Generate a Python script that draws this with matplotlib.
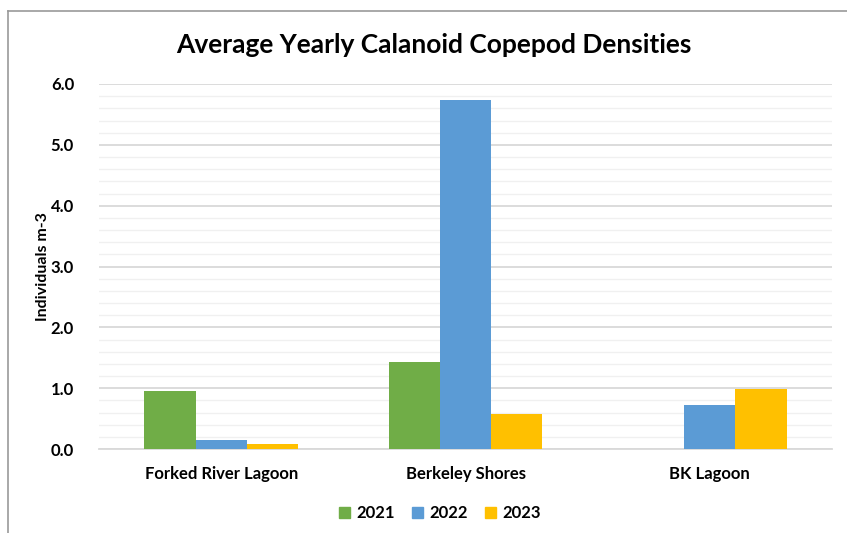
import numpy as np
import matplotlib.pyplot as plt
from matplotlib.lines import Line2D

sites = ["Forked River Lagoon", "Berkeley Shores", "BK Lagoon"]
years = ["2021", "2022", "2023"]
dens_2021 = [0.95, 1.43, 0.0]
dens_2022 = [0.14, 5.74, 0.72]
dens_2023 = [0.08, 0.58, 0.98]
colors = ["#70ad47", "#5b9bd5", "#ffc000"]

plt.rcParams["font.family"] = ["Lato", "DejaVu Sans"]
plt.rcParams["font.weight"] = "bold"

fig = plt.figure(figsize=(8.47, 5.33), dpi=100)
W, H = 847, 533
ax = fig.add_axes([99 / W, 1 - 449 / H, 733 / W, 365 / H])

x = np.arange(len(sites))
bw = 0.21
for i, (vals, yr) in enumerate(zip([dens_2021, dens_2022, dens_2023], years)):
    ax.bar(x + (i - 1) * bw, vals, bw, color=colors[i], label=yr, zorder=3)

ax.set_xlim(-0.5, 2.5)
ax.set_ylim(0, 6.0)
ax.set_yticks(np.arange(0, 6.01, 1.0))
ax.set_yticklabels([f"{v:.1f}" for v in np.arange(0, 6.01, 1.0)])
ax.set_yticks(np.arange(0, 6.01, 0.2), minor=True)
ax.yaxis.grid(True, which="major", color="#d9d9d9", lw=1.3, zorder=0)
ax.yaxis.grid(True, which="minor", color="#f0f0f0", lw=1.0, zorder=0)
ax.set_xticks(x)
ax.set_xticklabels(sites, fontsize=12, fontweight="bold")
ax.tick_params(axis="both", length=0, labelsize=12, colors="black")
ax.tick_params(axis="y", pad=18)
ax.tick_params(axis="x", pad=12)
ax.tick_params(axis="y", which="minor", length=0)
for s in ["top", "right", "left"]:
    ax.spines[s].set_visible(False)
ax.spines["bottom"].set_color("#d9d9d9")
ax.spines["bottom"].set_linewidth(1.3)

ax.set_ylabel("Individuals m-3", fontsize=11.5, fontweight="bold")
ax.yaxis.set_label_coords(-0.067, 0.5)

fig.text(434 / W, 1 - 45 / H, "Average Yearly Calanoid Copepod Densities",
         ha="center", va="center", fontsize=19, fontweight="bold")

handles = [plt.Rectangle((0, 0), 1, 1, color=c) for c in colors]
fig.legend(handles, years, loc="center", bbox_to_anchor=(440 / W, 1 - 513 / H),
           ncol=3, frameon=False, fontsize=12, handlelength=0.65, handleheight=0.65,
           columnspacing=1.0, handletextpad=0.4)

# chart frame (top and left edges)
fig.add_artist(Line2D([8 / W, 1], [1 - 11 / H, 1 - 11 / H], color="#999999", lw=1.2,
                      transform=fig.transFigure))
fig.add_artist(Line2D([8 / W, 8 / W], [0, 1 - 11 / H], color="#999999", lw=1.2,
                      transform=fig.transFigure))

fig.savefig("out.png", dpi=100)
